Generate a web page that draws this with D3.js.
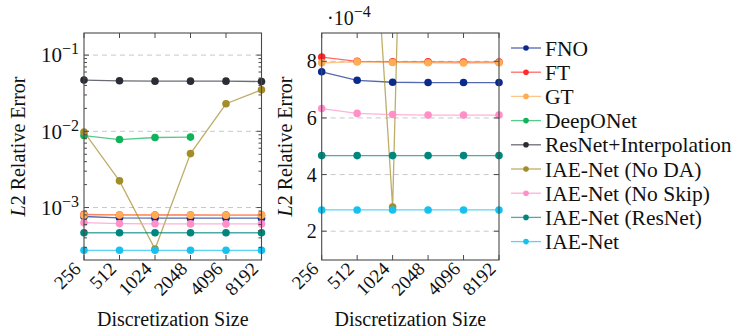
<!DOCTYPE html>
<html>
<head>
<meta charset="utf-8">
<script src="https://cdn.jsdelivr.net/npm/d3@7"></script>
<style>
  body { margin: 0; background: #fff; }
  text { font-family: "Liberation Serif", "DejaVu Serif", serif; fill: #111; }
</style>
</head>
<body>
<svg id="chart" width="739" height="329"></svg>
<script>
// discretization sizes on the x axis
const sizes = [256, 512, 1024, 2048, 4096, 8192]

// L2 relative error per method
const fno          = [7.63e-4, 7.33e-4, 7.26e-4, 7.25e-4, 7.25e-4, 7.25e-4]
const ft           = [8.15e-4, 8.00e-4, 7.98e-4, 7.98e-4, 7.97e-4, 7.97e-4]
const gt           = [7.95e-4, 7.98e-4, 7.96e-4, 7.95e-4, 7.94e-4, 7.95e-4]
const deeponet     = [8.8e-3, 7.8e-3, 8.3e-3, 8.4e-3]
const resnetInterp = [4.7e-2, 4.6e-2, 4.55e-2, 4.55e-2, 4.55e-2, 4.5e-2]
const iaeNoDA      = [9.8e-3, 2.24e-3, 2.85e-4, 5.1e-3, 2.3e-2, 3.5e-2]
const iaeNoSkip    = [6.33e-4, 6.16e-4, 6.12e-4, 6.10e-4, 6.10e-4, 6.10e-4]
const iaeResNet    = [4.67e-4, 4.67e-4, 4.67e-4, 4.67e-4, 4.67e-4, 4.67e-4]
const iaeNet       = [2.75e-4, 2.75e-4, 2.75e-4, 2.75e-4, 2.75e-4, 2.75e-4]

const seriesNames  = ['FNO', 'FT', 'GT', 'DeepONet', 'ResNet+Interpolation',
                      'IAE-Net (No DA)', 'IAE-Net (No Skip)', 'IAE-Net (ResNet)', 'IAE-Net']
const seriesValues = [fno, ft, gt, deeponet, resnetInterp, iaeNoDA, iaeNoSkip, iaeResNet, iaeNet]
const seriesColors = ['#0b2a8c', '#ff2b2b', '#ffad55', '#0fb35a', '#2b2d36',
                      '#a38c2a', '#ff90c8', '#00877d', '#16c1ef']

const logTicks = [1e-3, 1e-2, 1e-1]
const logTickLabels = ['\u22123', '\u22122', '\u22121']
const linTicks = [2e-4, 4e-4, 6e-4, 8e-4]
const linTickLabels = ['2', '4', '6', '8']

const series = seriesNames.map((name, i) => ({
    name: name,
    color: seriesColors[i],
    points: seriesValues[i].map((v, j) => ({ x: sizes[j], y: v }))
}))

const svg = d3.select('#chart')
const frameColor = '#4a4a4a'
const plotTop = 33, plotBottom = 260

function drawPanel(id, left, right, y, ticks, minor, labelFn, titleX) {
    const x = d3.scaleLog().base(2).domain([256, 8192]).range([left, right])
    const g = svg.append('g')
    const [lo, hi] = y.domain()

    g.append('clipPath').attr('id', id)
     .append('rect')
     .attr('x', left).attr('y', plotTop)
     .attr('width', right - left).attr('height', plotBottom - plotTop)

    // dashed grid
    g.selectAll('.grid').data(ticks).enter().append('line')
     .attr('x1', left).attr('x2', right)
     .attr('y1', d => y(d)).attr('y2', d => y(d))
     .attr('stroke', '#c8c8c8').attr('stroke-dasharray', '5,4')

    // lines, clipped to the frame
    const line = d3.line().x(d => x(d.x)).y(d => y(d.y))
    series.forEach(s => {
        g.append('path')
         .datum(s.points)
         .attr('clip-path', `url(#${id})`)
         .attr('d', line)
         .attr('fill', 'none')
         .attr('stroke', s.color)
         .attr('stroke-opacity', 0.7)
         .attr('stroke-width', 1.3)
    })

    // markers (only those inside range, not clipped)
    series.forEach(s => {
        g.selectAll(null)
         .data(s.points.filter(p => p.y >= lo && p.y <= hi))
         .enter().append('circle')
         .attr('cx', d => x(d.x)).attr('cy', d => y(d.y))
         .attr('r', 3.8)
         .attr('fill', s.color)
    })

    // frame
    g.append('rect')
     .attr('x', left).attr('y', plotTop)
     .attr('width', right - left).attr('height', plotBottom - plotTop)
     .attr('fill', 'none').attr('stroke', frameColor).attr('stroke-width', 1.1)

    // x ticks top and bottom
    sizes.forEach(s => {
        g.append('line').attr('x1', x(s)).attr('x2', x(s))
         .attr('y1', plotBottom).attr('y2', plotBottom - 5)
         .attr('stroke', frameColor)
        g.append('line').attr('x1', x(s)).attr('x2', x(s))
         .attr('y1', plotTop).attr('y2', plotTop + 5)
         .attr('stroke', frameColor)
        g.append('text')
         .attr('transform', `translate(${x(s) - 2},${plotBottom + 10}) rotate(-45)`)
         .attr('text-anchor', 'end')
         .style('font-size', '19px')
         .text(s)
    })

    // y ticks both sides
    ticks.forEach(t => {
        g.append('line').attr('x1', left).attr('x2', left + 5)
         .attr('y1', y(t)).attr('y2', y(t)).attr('stroke', frameColor)
        g.append('line').attr('x1', right).attr('x2', right - 5)
         .attr('y1', y(t)).attr('y2', y(t)).attr('stroke', frameColor)
    })
    minor.forEach(t => {
        g.append('line').attr('x1', left).attr('x2', left + 3)
         .attr('y1', y(t)).attr('y2', y(t)).attr('stroke', frameColor)
        g.append('line').attr('x1', right).attr('x2', right - 3)
         .attr('y1', y(t)).attr('y2', y(t)).attr('stroke', frameColor)
    })
    ticks.forEach((t, i) => labelFn(g, left - 5, y(t), i))

    // axis titles
    g.append('text')
     .attr('x', (left + right) / 2).attr('y', 326)
     .attr('text-anchor', 'middle')
     .style('font-size', '20px')
     .text('Discretization Size')

    const yt = g.append('text')
     .attr('transform', `translate(${titleX},${(plotTop + plotBottom) / 2}) rotate(-90)`)
     .attr('text-anchor', 'middle')
     .style('font-size', '20px')
    yt.append('tspan').style('font-style', 'italic').text('L')
    yt.append('tspan').text('2 Relative Error')
}

// left panel: log scale
const yLog = d3.scaleLog().domain([2.05e-4, 0.195]).range([plotBottom, plotTop])
const minorLog = []
;[1e-4, 1e-3, 1e-2, 1e-1].forEach(d => {
    for (let k = 2; k <= 9; k++) {
        const v = d * k
        if (v > 2.05e-4 && v < 0.195) minorLog.push(v)
    }
})
drawPanel('clipL', 84, 261.5, yLog, logTicks, minorLog, (g, xx, yy, i) => {
    const t = g.append('text').attr('x', xx).attr('y', yy)
               .attr('text-anchor', 'end').attr('dy', '0.35em')
               .style('font-size', '21px')
    t.append('tspan').text('10')
    t.append('tspan').attr('dy', '-0.5em').style('font-size', '16px').text(logTickLabels[i])
}, 25)

// right panel: linear scale, x 10^-4
const yLin = d3.scaleLinear().domain([1e-4, 9e-4]).range([259.5, plotTop])
drawPanel('clipR', 321.7, 499, yLin, linTicks, [], (g, xx, yy, i) => {
    g.append('text').attr('x', xx).attr('y', yy)
     .attr('text-anchor', 'end').attr('dy', '0.35em')
     .style('font-size', '20px')
     .text(linTickLabels[i])
}, 292)
const expo = svg.append('text').attr('x', 327).attr('y', 25).style('font-size', '20px')
expo.append('tspan').text('\u00b710')
expo.append('tspan').attr('dy', '-0.5em').style('font-size', '16px').text('\u22124')

// legend
const legend = svg.append('g').attr('transform', 'translate(511, 48)')
series.forEach((s, i) => {
    const row = legend.append('g').attr('transform', `translate(0, ${i * 24.2})`)
    row.append('line').attr('x1', 0).attr('x2', 30)
       .attr('stroke', s.color).attr('stroke-opacity', 0.7).attr('stroke-width', 1.3)
    row.append('circle').attr('cx', 15).attr('r', 2.8).attr('fill', s.color)
    row.append('text').attr('x', 34).attr('dy', '0.35em')
       .style('font-size', '21.5px').text(s.name)
})
</script>
</body>
</html>
